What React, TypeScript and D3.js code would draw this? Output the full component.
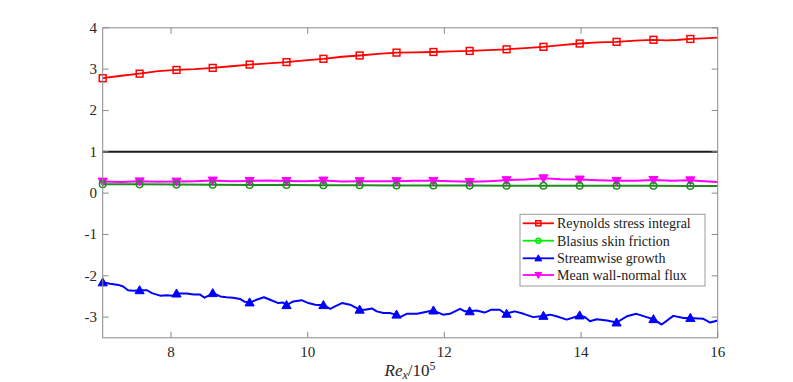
import React from "react";
import * as d3 from "d3";

// ---- Data ----
const xDomain = [7, 16];
const yDomain = [-3.5, 4];
const xTicks = [8, 10, 12, 14, 16];
const yTicks = [-3, -2, -1, 0, 1, 2, 3, 4];
const yTickLabels = ["-3", "-2", "-1", "0", "1", "2", "3", "4"];

const markerX = [7.0, 7.54, 8.08, 8.61, 9.15, 9.69, 10.23, 10.76, 11.3, 11.84, 12.37, 12.91, 13.45, 13.98, 14.52, 15.06, 15.6];

// Reynolds stress integral
const reynoldsLine: [number, number][] = [
  [7.0, 2.78], [7.27, 2.84], [7.54, 2.89], [7.81, 2.95], [8.08, 2.98], [8.35, 3.0], [8.61, 3.03],
  [8.88, 3.07], [9.15, 3.11], [9.42, 3.14], [9.69, 3.17], [9.96, 3.21], [10.23, 3.25], [10.5, 3.3],
  [10.76, 3.33], [11.03, 3.37], [11.3, 3.4], [11.57, 3.405], [11.84, 3.415], [12.1, 3.43], [12.37, 3.44],
  [12.64, 3.46], [12.91, 3.48], [13.18, 3.51], [13.45, 3.54], [13.71, 3.58], [13.98, 3.62], [14.25, 3.645],
  [14.52, 3.66], [14.79, 3.69], [15.06, 3.71], [15.25, 3.695], [15.4, 3.705], [15.6, 3.73], [15.8, 3.745], [16.0, 3.76]
];
const reynoldsMarkers = [2.78, 2.89, 2.98, 3.03, 3.11, 3.17, 3.25, 3.33, 3.4, 3.415, 3.44, 3.48, 3.54, 3.62, 3.66, 3.71, 3.73];

// Blasius skin friction
const blasiusLine: [number, number][] = [
  [7.0, 0.217], [7.54, 0.212], [8.08, 0.207], [8.61, 0.203], [9.15, 0.199], [9.69, 0.195], [10.23, 0.192],
  [10.76, 0.189], [11.3, 0.186], [11.84, 0.184], [12.37, 0.182], [12.91, 0.18], [13.45, 0.179], [13.98, 0.178],
  [14.52, 0.177], [15.06, 0.176], [15.6, 0.175], [16.0, 0.174]
];
const blasiusMarkers = [0.217, 0.212, 0.207, 0.203, 0.199, 0.195, 0.192, 0.189, 0.186, 0.184, 0.182, 0.18, 0.179, 0.178, 0.177, 0.176, 0.175];

// Streamwise growth
const streamLine: [number, number][] = [
  [7.01, -2.16], [7.11, -2.19], [7.23, -2.22], [7.3, -2.26], [7.37, -2.35], [7.45, -2.36], [7.56, -2.35],
  [7.65, -2.35], [7.72, -2.42], [7.84, -2.48], [7.94, -2.47], [8.03, -2.48], [8.09, -2.43], [8.23, -2.43],
  [8.33, -2.45], [8.42, -2.45], [8.49, -2.53], [8.55, -2.48], [8.62, -2.42], [8.72, -2.5], [8.81, -2.52],
  [8.91, -2.53], [9.01, -2.56], [9.08, -2.63], [9.16, -2.645], [9.25, -2.58], [9.36, -2.52], [9.45, -2.58],
  [9.57, -2.66], [9.64, -2.645], [9.69, -2.71], [9.79, -2.62], [9.91, -2.59], [10.01, -2.66], [10.11, -2.7],
  [10.23, -2.71], [10.33, -2.8], [10.4, -2.74], [10.5, -2.66], [10.62, -2.7], [10.76, -2.82], [10.84, -2.82],
  [10.94, -2.79], [11.01, -2.86], [11.11, -2.9], [11.2, -2.9], [11.29, -2.94], [11.35, -3.0], [11.45, -2.92],
  [11.6, -2.92], [11.69, -2.89], [11.83, -2.84], [11.91, -2.89], [11.98, -2.94], [12.08, -2.92], [12.23, -2.8],
  [12.3, -2.86], [12.37, -2.86], [12.47, -2.84], [12.59, -2.89], [12.69, -2.82], [12.81, -2.82], [12.89, -2.92],
  [13.03, -2.86], [13.16, -2.92], [13.3, -3.0], [13.44, -2.97], [13.55, -2.94], [13.64, -2.98], [13.79, -3.06],
  [13.98, -2.96], [14.06, -3.0], [14.13, -3.1], [14.23, -3.05], [14.38, -3.08], [14.52, -3.13], [14.67, -2.98],
  [14.81, -2.92], [14.96, -3.0], [15.06, -3.05], [15.18, -3.18], [15.35, -2.97], [15.5, -3.02], [15.59, -3.02],
  [15.79, -3.04], [15.89, -3.13], [16.0, -3.08]
];
const streamMarkers = [-2.16, -2.35, -2.43, -2.42, -2.645, -2.71, -2.71, -2.82, -2.94, -2.84, -2.86, -2.92, -2.97, -2.96, -3.13, -3.05, -3.02];

// Mean wall-normal flux
const fluxLine: [number, number][] = [
  [7.0, 0.28], [7.27, 0.27], [7.54, 0.285], [7.81, 0.275], [8.08, 0.28], [8.35, 0.29], [8.61, 0.305],
  [8.88, 0.285], [9.15, 0.295], [9.42, 0.305], [9.69, 0.295], [9.96, 0.29], [10.23, 0.305], [10.5, 0.28],
  [10.76, 0.29], [11.03, 0.285], [11.3, 0.29], [11.57, 0.3], [11.84, 0.297], [12.1, 0.285], [12.37, 0.273],
  [12.64, 0.29], [12.91, 0.314], [13.18, 0.33], [13.45, 0.36], [13.71, 0.335], [13.98, 0.33], [14.25, 0.31],
  [14.52, 0.297], [14.79, 0.3], [15.06, 0.32], [15.33, 0.3], [15.6, 0.31], [15.8, 0.29], [16.0, 0.27]
];
const fluxMarkers = [0.28, 0.285, 0.28, 0.305, 0.295, 0.295, 0.305, 0.29, 0.29, 0.297, 0.273, 0.314, 0.36, 0.33, 0.297, 0.32, 0.31];

const legendLabels = ["Reynolds stress integral", "Blasius skin friction", "Streamwise growth", "Mean wall-normal flux"];

// ---- Layout ----
const W = 793, H = 382;
const M = { left: 102.7, right: 717.7, top: 27.8, bottom: 337.8 };
const FONT = "Liberation Serif";
const AX = "#8a8a8a";

type MarkerKind = "square" | "circle" | "up" | "down";

function Marker({ kind, x, y, color, s = 1 }: { kind: MarkerKind; x: number; y: number; color: string; s?: number }) {
  if (kind === "square") {
    const h = 3.4 * s;
    return <rect x={x - h} y={y - h} width={2 * h} height={2 * h} fill="none" stroke={color} strokeWidth={1.5} />;
  }
  if (kind === "circle") {
    return <circle cx={x} cy={y} r={3.3 * s} fill="none" stroke={color} strokeWidth={1.5} />;
  }
  if (kind === "up") {
    const a = 4.6 * s;
    const p = `M${x},${y - a} L${x + a},${y + a * 0.75} L${x - a},${y + a * 0.75} Z`;
    return <path d={p} fill={color} stroke={color} strokeWidth={1} />;
  }
  const a = 4.6 * s;
  const p = `M${x},${y + a} L${x + a},${y - a * 0.75} L${x - a},${y - a * 0.75} Z`;
  return <path d={p} fill={color} stroke={color} strokeWidth={1} />;
}

export default function App() {
  const x = d3.scaleLinear().domain(xDomain).range([M.left, M.right]);
  const y = d3.scaleLinear().domain(yDomain).range([M.bottom, M.top]);
  const line = d3.line<[number, number]>().x((d) => x(d[0])).y((d) => y(d[1]));

  const series = [
    { label: legendLabels[0], data: reynoldsLine, markers: reynoldsMarkers, color: "#ff0000", legendColor: "#ff0000", kind: "square" as MarkerKind, w: 1.8 },
    { label: legendLabels[1], data: blasiusLine, markers: blasiusMarkers, color: "#1f8c1f", legendColor: "#00ee00", kind: "circle" as MarkerKind, w: 2 },
    { label: legendLabels[2], data: streamLine, markers: streamMarkers, color: "#0000ff", legendColor: "#0000ff", kind: "up" as MarkerKind, w: 2 },
    { label: legendLabels[3], data: fluxLine, markers: fluxMarkers, color: "#ff00ff", legendColor: "#ff00ff", kind: "down" as MarkerKind, w: 2 },
  ];
  const drawOrder = [series[3], series[1], series[0], series[2]];

  const tickLen = 6;
  const leg = { x: 520, y: 214.3, w: 185, h: 71.7 };
  const legRows = [223.3, 240.7, 258.3, 275];
  const tstyle = { fontFamily: "'Liberation Serif'" };

  return (
    <svg width={W} height={H} style={{ position: "absolute", left: 0, top: 0 }}>
      <style>{"text, tspan { font-family: 'Liberation Serif', 'Times New Roman', serif; }"}</style>
      <defs>
        <clipPath id="plotclip">
          <rect x={M.left} y={M.top} width={M.right - M.left} height={M.bottom - M.top} />
        </clipPath>
      </defs>
      <rect x={0} y={0} width={W} height={H} fill="#fff" />

      {/* reference line at 1 */}
      <line x1={x(xDomain[0])} x2={x(xDomain[1])} y1={y(1)} y2={y(1)} stroke="#1a1a1a" strokeWidth={2} />

      <g clipPath="url(#plotclip)">
        {drawOrder.map((s) => (
          <path key={s.label} d={line(s.data) || ""} fill="none" stroke={s.color} strokeWidth={s.w} strokeLinejoin="round" />
        ))}
      </g>
      {drawOrder.map((s) => (
        <g key={s.label + "m"}>
          {s.markers.map((v, i) => (
            <Marker key={i} kind={s.kind} x={x(markerX[i])} y={y(v)} color={s.color} />
          ))}
        </g>
      ))}

      {/* axes box */}
      <rect x={M.left} y={M.top} width={M.right - M.left} height={M.bottom - M.top} fill="none" stroke={AX} strokeWidth={1} />
      {xTicks.map((t) => (
        <line key={"xtb" + t} x1={x(t)} x2={x(t)} y1={M.bottom} y2={M.bottom - tickLen} stroke={AX} />
      ))}
      {xTicks.map((t) => (
        <line key={"xtt" + t} x1={x(t)} x2={x(t)} y1={M.top} y2={M.top + tickLen} stroke={AX} />
      ))}
      {yTicks.map((t) => (
        <line key={"ytl" + t} x1={M.left} x2={M.left + tickLen} y1={y(t)} y2={y(t)} stroke={AX} />
      ))}
      {yTicks.map((t) => (
        <line key={"ytr" + t} x1={M.right} x2={M.right - tickLen} y1={y(t)} y2={y(t)} stroke={AX} />
      ))}
      {xTicks.map((t) => (
        <text key={"xl" + t} x={x(t)} y={357} textAnchor="middle" fontSize={15} fontFamily={FONT} fill="#262626" style={tstyle}>{t}</text>
      ))}
      {yTicks.map((t, i) => (
        <text key={"yl" + t} x={97} y={y(t) + 5} textAnchor="end" fontSize={15} fontFamily={FONT} fill="#262626" style={tstyle}>{yTickLabels[i]}</text>
      ))}

      {/* x label */}
      <text x={410} y={376} textAnchor="middle" fontSize={17} fontFamily={FONT} fill="#262626" style={tstyle}>
        <tspan fontStyle="italic">Re</tspan>
        <tspan fontStyle="italic" fontSize={12} dy={3}>x</tspan>
        <tspan dy={-3}>/10</tspan>
        <tspan fontSize={12} dy={-6.5}>5</tspan>
      </text>

      {/* legend */}
      <rect x={leg.x} y={leg.y} width={leg.w} height={leg.h} fill="#fff" stroke="#9a9a9a" strokeWidth={1} />
      {series.map((s, i) => (
        <g key={"lg" + i}>
          <line x1={522.7} x2={554} y1={legRows[i]} y2={legRows[i]} stroke={s.legendColor} strokeWidth={1.8} />
          <Marker kind={s.kind} x={538.3} y={legRows[i]} color={s.legendColor} s={0.75} />
        </g>
      ))}
      {series.map((s, i) => (
        <text key={"lt" + i} x={557} y={legRows[i] + 4.8} fontSize={14} fontFamily={FONT} fill="#1a1a1a" style={tstyle}>{s.label}</text>
      ))}
    </svg>
  );
}
